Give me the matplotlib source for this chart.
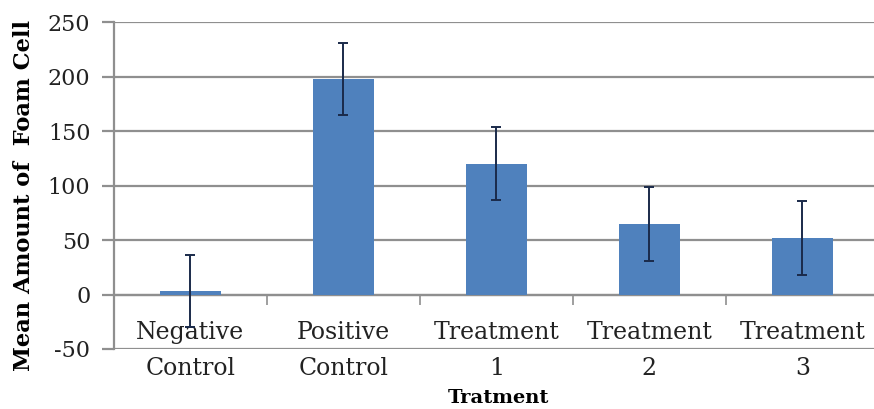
import numpy as np
import matplotlib.pyplot as plt

# ---- data ----
kategorier = ["Negative\nControl", "Positive\nControl", "Treatment\n1", "Treatment\n2", "Treatment\n3"]
gjennomsnitt = [3, 198, 120, 65, 52]
feil = [33, 33, 33.5, 34, 34]
y_ticks = [-50, 0, 50, 100, 150, 200, 250]

bar_farge = "#4F81BD"
grid_farge = "#8f8f8f"

plt.rcParams["font.family"] = ["DejaVu Serif"]
plt.rcParams["axes.unicode_minus"] = False

fig = plt.figure(figsize=(8.74, 4.09), dpi=100)
ax = fig.add_axes([0.1304, 0.1467, 0.8753, 0.7993])

x = np.arange(len(kategorier))
ax.bar(x, gjennomsnitt, width=0.40, color=bar_farge, zorder=3)
ax.errorbar(x, gjennomsnitt, yerr=feil, fmt="none", ecolor="#1a2a4a",
            elinewidth=1.4, capsize=3.5, capthick=1.4, zorder=4)

ax.set_xlim(-0.5, len(kategorier) - 0.5)
ax.set_ylim(-50, 250)
ax.set_yticks(y_ticks)
ax.yaxis.grid(True, color=grid_farge, linewidth=1.6, zorder=0)
ax.set_axisbelow(True)

# kategoriaksen ligger paa y = 0
for s in ["top", "right"]:
    ax.spines[s].set_visible(False)
ax.spines["bottom"].set_position(("data", 0))
ax.spines["bottom"].set_color(grid_farge)
ax.spines["bottom"].set_linewidth(1.6)
ax.spines["left"].set_color(grid_farge)
ax.spines["left"].set_linewidth(1.6)

ax.tick_params(axis="y", length=9, width=1.6, color=grid_farge, labelsize=16,
               pad=8, labelcolor="#222222")

ax.set_xticks(x)
ax.set_xticklabels(kategorier, fontsize=17, color="#222222")
ax.tick_params(axis="x", which="major", length=0, pad=19)
for lbl in ax.get_xticklabels():
    lbl.set_linespacing(1.72)
# delestreker mellom kategoriene
ax.set_xticks(np.arange(0.5, len(kategorier) - 0.5, 1.0), minor=True)
ax.tick_params(axis="x", which="minor", length=7, width=1.2, color=grid_farge, direction="out")

ax.set_ylabel("Mean Amount of  Foam Cell", fontsize=16.2, fontweight="bold")
ax.yaxis.set_label_coords(-0.103, 0.47)
fig.text(0.57, 0.027, "Tratment", ha="center", va="center", fontsize=14, fontweight="bold")

fig.savefig("out.png", dpi=100)
